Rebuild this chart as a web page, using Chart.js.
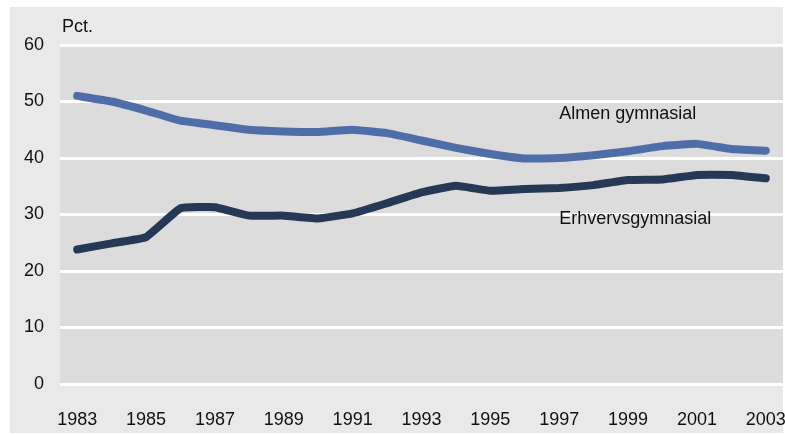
<!DOCTYPE html>
<html>
<head>
<meta charset="utf-8">
<script src="https://cdn.jsdelivr.net/npm/chart.js@4"></script>
<style>
  html, body { margin: 0; padding: 0; background: #fff; }
  #wrap { width: 785px; height: 435px; }
</style>
</head>
<body>
<div id="wrap"><canvas id="chart" width="785" height="435"></canvas></div>
<script>
const years = ['1983', '1984', '1985', '1986', '1987', '1988', '1989', '1990', '1991', '1992', '1993',
  '1994', '1995', '1996', '1997', '1998', '1999', '2000', '2001', '2002', '2003'];
const almen = [51.0, 50.0, 48.4, 46.6, 45.8, 45.0, 44.7, 44.6, 45.0, 44.4, 43.1,
  41.8, 40.7, 39.9, 40.0, 40.5, 41.2, 42.1, 42.5, 41.6, 41.3];
const erhverv = [23.8, 24.9, 26.0, 31.1, 31.3, 29.8, 29.8, 29.3, 30.2, 32.0, 33.9,
  35.1, 34.2, 34.5, 34.7, 35.2, 36.1, 36.2, 37.0, 37.0, 36.4];
const seriesLabels = ['Almen gymnasial', 'Erhvervsgymnasial'];
const yTicks = [0, 10, 20, 30, 40, 50, 60];

const FONT = '"Liberation Sans", Arial, sans-serif';

// background panel, plot area and text labels
const backdrop = {
  id: 'backdrop',
  beforeDraw(chart) {
    const { ctx, chartArea: a } = chart;
    ctx.save();
    ctx.fillStyle = '#e9e9e9';
    ctx.fillRect(10, 7, 773, 426);
    ctx.fillStyle = '#dcdcdc';
    ctx.fillRect(a.left, a.top, a.right - a.left, a.bottom - a.top);
    ctx.restore();
  },
  afterDatasetsDraw(chart) {
    const { ctx, scales: { x, y } } = chart;
    ctx.save();
    ctx.fillStyle = '#111';
    ctx.textBaseline = 'middle';
    ctx.textAlign = 'left';
    ctx.font = '18px ' + FONT;
    ctx.fillText('Pct.', 62, 27);
    ctx.fillText(seriesLabels[0], x.getPixelForValue(14), y.getPixelForValue(47.8));
    ctx.fillText(seriesLabels[1], x.getPixelForValue(14), y.getPixelForValue(29.2));
    ctx.restore();
  },
};

new Chart(document.getElementById('chart'), {
  type: 'line',
  data: {
    labels: years,
    datasets: [
      {
        label: seriesLabels[0],
        data: almen,
        borderColor: '#4f6ea8',
        borderWidth: 8,
        pointRadius: 0,
        tension: 0.1,
        borderJoinStyle: 'round',
        borderCapStyle: 'round',
      },
      {
        label: seriesLabels[1],
        data: erhverv,
        borderColor: '#253856',
        borderWidth: 8,
        pointRadius: 0,
        tension: 0.1,
        borderJoinStyle: 'round',
        borderCapStyle: 'round',
      },
    ],
  },
  options: {
    responsive: false,
    animation: false,
    events: [],
    layout: { padding: { left: 10, right: 2, top: 45, bottom: 6 } },
    plugins: { legend: { display: false }, tooltip: { enabled: false } },
    scales: {
      x: {
        offset: true,
        grid: { display: false },
        border: { display: false },
        afterFit(scale) {
          scale.height = 45;
          scale.paddingLeft = 0;
          scale.paddingRight = 0;
        },
        ticks: {
          autoSkip: false,
          maxRotation: 0,
          padding: 17,
          color: '#111',
          font: { family: FONT, size: 18 },
          callback(value, index) { return index % 2 === 0 ? years[index] : ''; },
        },
      },
      y: {
        min: 0,
        max: 60,
        afterFit(scale) {
          scale.width = 50;
          scale.paddingTop = 0;
          scale.paddingBottom = 0;
        },
        afterBuildTicks(scale) { scale.ticks = yTicks.map((v) => ({ value: v })); },
        grid: { color: '#ffffff', lineWidth: 3, drawTicks: false },
        border: { display: false },
        ticks: {
          padding: 16,
          color: '#111',
          font: { family: FONT, size: 18 },
        },
      },
    },
  },
  plugins: [backdrop],
});
</script>
</body>
</html>
